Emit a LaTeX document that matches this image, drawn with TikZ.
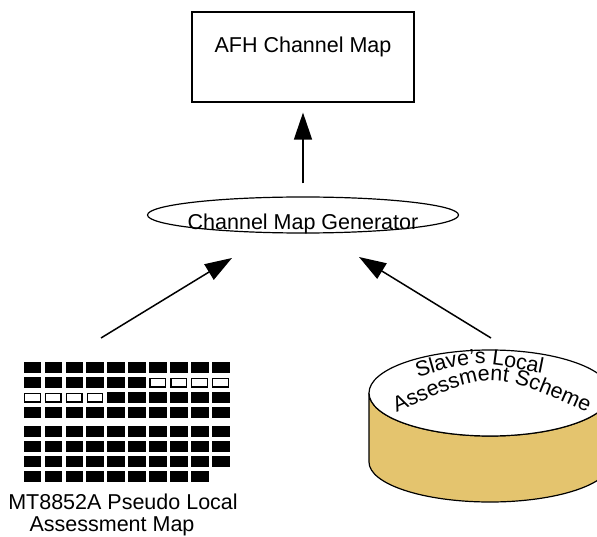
\documentclass[tikz,border=0pt]{standalone}
\usepackage{fontspec}
\setmainfont{Liberation Sans}
\usetikzlibrary{arrows.meta,shapes.geometric,decorations.text,calc}
\definecolor{gold}{RGB}{228,196,110}
\tikzset{
  boxstyle/.style={draw,line width=1.2pt,minimum width=222pt,minimum height=90pt,inner sep=0pt},
  genstyle/.style={draw,ellipse,line width=1.2pt,minimum width=311pt,minimum height=36pt,inner sep=0pt},
  lbl/.style={font=\fontsize{21.5pt}{24pt}\selectfont,inner sep=0pt},
  arr/.style={line width=1.5pt,-{Triangle[length=27pt,width=18pt]}},
  cellon/.style={fill=black,draw=black,line width=0.6pt},
  celloff/.style={fill=white,draw=black,line width=1.2pt},
}
\begin{document}
\begin{tikzpicture}[x=1pt,y=1pt]
\useasboundingbox (0,0) rectangle (597,536);
\clip (0,0) rectangle (597,536);
% top box
\node[boxstyle] (box) at (303,479) {};
\node[lbl,anchor=base] (boxtext) at (303,483) {AFH Channel Map};
% generator ellipse
\node[genstyle] (gen) at (303,321) {};
\node[lbl,anchor=base] (gentext) at (303,306) {Channel Map Generator};
% arrow up
\draw[arr,shorten <=13pt,shorten >=10pt] (gen.north) -- (box.south);
% grid
\foreach \r/\yt in {1/173.5,2/158.5,3/143.5,4/128.5,5/110,6/95,7/80,8/65}{
  \foreach \c in {1,...,10}{
    \pgfmathsetmacro{\xl}{24+(\c-1)*20.9}
    \pgfmathtruncatemacro{\off}{(\r==2 && \c>6) || (\r==3 && \c<5) ? 1 : 0}
    \pgfmathtruncatemacro{\skip}{(\r==8 && \c==10) ? 1 : 0}
    \ifnum\skip=0
      \ifnum\off=1
        \draw[celloff] (\xl+0.6,\yt-0.6) rectangle ++(15.5,-8.8);
      \else
        \draw[cellon] (\xl,\yt) rectangle ++(16.7,-10);
      \fi
    \fi
  }
}
\node[lbl,anchor=base] (gl1) at (123,27) {MT8852A Pseudo Local};
\node[lbl,anchor=base] (gl2) at (112,5) {Assessment Map};
% cylinder
\draw[line width=1.2pt,fill=gold] (369,143) -- (369,74) arc[start angle=180,end angle=360,x radius=121,y radius=40] -- (611,143) arc[start angle=0,end angle=-180,x radius=121,y radius=43] -- cycle;
\draw[line width=1.2pt,fill=white] (490,143) ellipse[x radius=121,y radius=43];
{\fontsize{21.5pt}{24pt}\selectfont
\path[decorate,decoration={text along path,text align=center,
  text={Slave's Local}}]
  (415,158) .. controls (475,176) .. (545,162);
\path[decorate,decoration={text along path,text align=center,
  text={Assessment Scheme}}]
  (393,122) .. controls (492,166) .. (591,122);
}
% diagonal arrows
\coordinate (gridtop) at (101,198);
\coordinate (cyltop) at (491,198);
\coordinate (genL) at (232,278);
\coordinate (genR) at (359,279);
\draw[arr] (gridtop) -- (genL);
\draw[arr] (cyltop) -- (genR);
\end{tikzpicture}
\end{document}
